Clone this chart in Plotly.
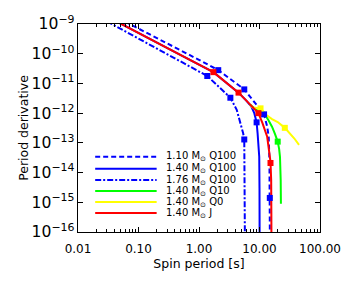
import plotly.graph_objects as go

# ---- data ----
# 1.40 Msun J (red)
j_P    = [0.045, 0.052, 0.2, 0.6, 1.73, 3.0, 4.5, 6.0, 7.0, 7.7, 9.6, 11.2, 13.4, 15.2, 15.6, 15.7, 15.75]
j_Pdot = [1.17e-9, 1e-9, 2.4e-10, 7.4e-11, 2.4e-11, 1.0e-11, 4.9e-12, 2.7e-12, 1.95e-12, 1.6e-12, 1.0e-12, 4.6e-13, 1.6e-13, 2.3e-14, 5.6e-15, 5e-16, 5e-17]
j_mP    = [1.73, 4.5, 9.6, 15.2]
j_mPdot = [2.4e-11, 4.9e-12, 1.0e-12, 2.1e-14]

# 1.10 Msun Q100 (blue dashed)
a_P    = [0.06, 0.32, 1.0, 2.08, 3.5, 5.6, 7.3, 9.5, 11.9, 13.4, 14.2, 14.6, 14.8, 14.85]
a_Pdot = [1.2e-9, 2.1e-10, 6.2e-11, 2.8e-11, 1.3e-11, 6.3e-12, 3.2e-12, 1.6e-12, 9.1e-13, 3.5e-13, 1.6e-13, 2.5e-14, 1.4e-15, 5e-17]
a_mP    = [2.08, 5.6, 11.9, 14.8]
a_mPdot = [2.8e-11, 6.3e-12, 9.1e-13, 1.4e-15]

# 1.40 Msun Q100 (blue solid)
b_P    = [0.045, 0.052, 0.2, 0.6, 1.73, 3.0, 4.5, 6.0, 7.3, 8.2, 8.96, 9.3, 9.9, 10.0, 10.05]
b_Pdot = [1.17e-9, 1e-9, 2.4e-10, 7.4e-11, 2.4e-11, 1.0e-11, 4.9e-12, 2.7e-12, 1.7e-12, 1.0e-12, 4.9e-13, 2.1e-13, 3.4e-14, 3e-15, 5e-17]
b_mP    = [8.96]
b_mPdot = [4.9e-13]

# 1.76 Msun Q100 (blue dash-dot)
c_P    = [0.03, 0.316, 1.37, 2.2, 3.3, 4.2, 4.86, 5.37, 5.6, 5.68, 5.72, 5.74]
c_Pdot = [1.23e-9, 9.1e-11, 1.78e-11, 7.2e-12, 3.3e-12, 1.3e-12, 4.6e-13, 2.1e-13, 1.3e-13, 1e-14, 1e-15, 5e-17]
c_mP    = [1.37, 3.3, 5.6]
c_mPdot = [1.78e-11, 3.3e-12, 1.3e-13]

# 1.40 Msun Q10 (green)
d_P    = [7.0, 7.7, 8.2, 9.5, 11.9, 14.0, 16.1, 18.0, 20.0, 21.1, 21.8, 22.4, 22.6]
d_Pdot = [1.95e-12, 1.6e-12, 1.45e-12, 1.2e-12, 1.0e-12, 5.9e-13, 3.5e-13, 2.0e-13, 1.1e-13, 6.3e-14, 3.4e-14, 5.6e-15, 9e-16]
d_mP    = [20.0]
d_mPdot = [1.1e-13]

# 1.40 Msun Q0 (yellow)
e_P    = [7.0, 7.7, 10.4, 13.0, 16.1, 20.0, 26.2, 32.0, 37.7, 45.0]
e_Pdot = [1.95e-12, 1.55e-12, 1.45e-12, 8.7e-13, 6.3e-13, 5.0e-13, 3.2e-13, 2.1e-13, 1.4e-13, 8.5e-14]
e_mP    = [10.4, 26.2]
e_mPdot = [1.45e-12, 3.2e-13]

legend_labels = ["1.10 M<sub>\u2299</sub> Q100", "1.40 M<sub>\u2299</sub> Q100", "1.76 M<sub>\u2299</sub> Q100",
                 "1.40 M<sub>\u2299</sub> Q10", "1.40 M<sub>\u2299</sub> Q0", "1.40 M<sub>\u2299</sub> J"]

x_tickvals = [0.01, 0.1, 1, 10, 100]
x_ticktext = ["0.01", "0.10", "1.00", "10.00", "100.00"]

BLUE = "#0000ff"; GREEN = "#00ff00"; YELLOW = "#ffff00"; RED = "#ff0000"
DASH = "5px,3px"
DASHDOT = "6px,2px,2px,2px"

series = [
    (a_P, a_Pdot, a_mP, a_mPdot, BLUE, DASH),
    (b_P, b_Pdot, b_mP, b_mPdot, BLUE, "solid"),
    (c_P, c_Pdot, c_mP, c_mPdot, BLUE, DASHDOT),
    (d_P, d_Pdot, d_mP, d_mPdot, GREEN, "solid"),
    (e_P, e_Pdot, e_mP, e_mPdot, YELLOW, "solid"),
    (j_P, j_Pdot, j_mP, j_mPdot, RED, "solid"),
]

fig = go.Figure()
for P, Pd, mP, mPd, col, dash in series:
    fig.add_trace(go.Scatter(x=P, y=Pd, mode="lines", line=dict(color=col, width=2, dash=dash),
                             showlegend=False, hoverinfo="skip"))
for P, Pd, mP, mPd, col, dash in series:
    fig.add_trace(go.Scatter(x=mP, y=mPd, mode="markers",
                             marker=dict(symbol="square", size=6, color=col, line=dict(width=0)),
                             showlegend=False, hoverinfo="skip"))

FONT = "DejaVu Sans, Verdana, sans-serif"

# manual legend (paper coordinates)
leg_y = [0.362, 0.304, 0.250, 0.197, 0.144, 0.091]
for (P, Pd, mP, mPd, col, dash), lab, yy in zip(series, legend_labels, leg_y):
    fig.add_shape(type="line", xref="paper", yref="paper", x0=0.071, x1=0.325, y0=yy, y1=yy,
                  line=dict(color=col, width=2, dash=dash))
    fig.add_annotation(xref="paper", yref="paper", x=0.355, y=yy, text=lab, showarrow=False,
                       xanchor="left", yanchor="middle", font=dict(family=FONT, size=10, color="black"))

fig.update_layout(
    width=353, height=283,
    margin=dict(l=78, r=23, t=24, b=51),
    paper_bgcolor="white", plot_bgcolor="white",
    font=dict(family=FONT, size=12, color="black"),
    showlegend=False,
)
fig.update_xaxes(type="log", range=[-2, 2], tickvals=x_tickvals, ticktext=x_ticktext,
                 ticks="inside", ticklen=5, tickcolor="black", showgrid=False, zeroline=False,
                 showline=True, linecolor="black", linewidth=1, mirror="ticks",
                 tickfont=dict(size=12), ticklabelstandoff=6,
                 minor=dict(ticks="inside", ticklen=3, tickcolor="black", dtick="D1", showgrid=False),
                 title=dict(text="Spin period [s]", standoff=3, font=dict(size=12.5)))
fig.update_yaxes(type="log", range=[-16, -9], dtick=1, exponentformat="power",
                 ticks="inside", ticklen=5, tickcolor="black", showgrid=False, zeroline=False,
                 showline=True, linecolor="black", linewidth=1, mirror="ticks",
                 tickfont=dict(size=12.5),
                 title=dict(text="Period derivative", standoff=0, font=dict(size=12.5)))

fig.write_html("out.html", config={"displayModeBar": False},
               post_script="document.body.style.margin='0';")
